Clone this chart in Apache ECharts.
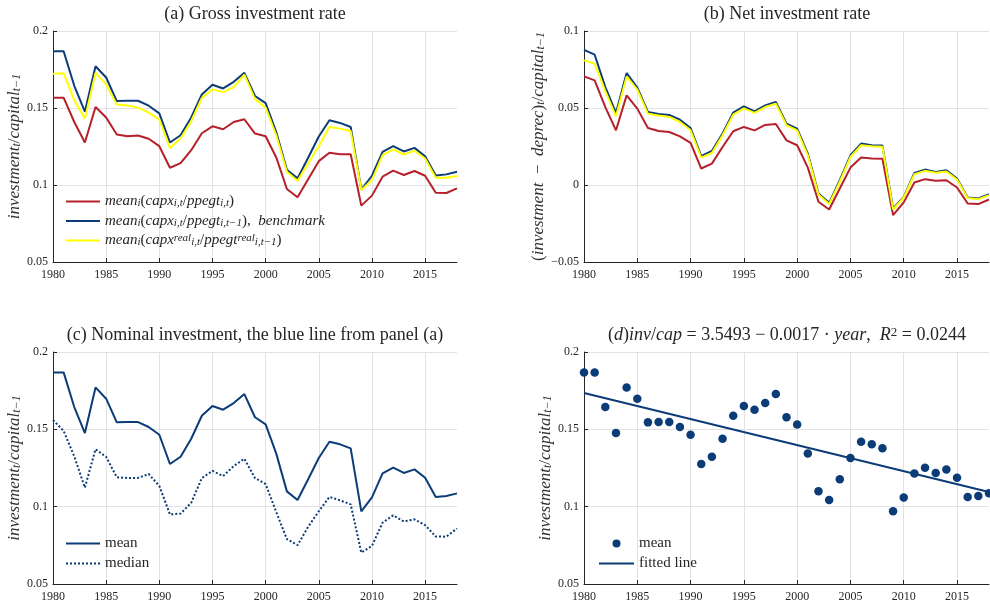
<!DOCTYPE html>
<html><head><meta charset="utf-8">
<script src="https://cdn.jsdelivr.net/npm/echarts@6/dist/echarts.min.js"></script>
<style>html,body{margin:0;padding:0;background:#fff}#chart{width:990px;height:607px}</style>
</head><body><div id="chart"></div>
<script>
const years = [1980,1981,1982,1983,1984,1985,1986,1987,1988,1989,1990,1991,1992,1993,1994,1995,1996,1997,1998,1999,2000,2001,2002,2003,2004,2005,2006,2007,2008,2009,2010,2011,2012,2013,2014,2015,2016,2017,2018];
// panel (a): gross investment rate
const grossMeanBench = [0.1868,0.1868,0.1644,0.1476,0.1771,0.1698,0.1545,0.1547,0.1547,0.1515,0.1465,0.1276,0.1323,0.1439,0.1588,0.1651,0.1627,0.1670,0.1728,0.1578,0.1532,0.1343,0.1099,0.1043,0.1177,0.1315,0.1420,0.1403,0.1377,0.0970,0.1060,0.1215,0.1252,0.1218,0.1241,0.1187,0.1062,0.1069,0.1086];
const grossMeanSame = [0.1567,0.1567,0.1409,0.1276,0.1506,0.1438,0.1328,0.1317,0.1321,0.1300,0.1252,0.1112,0.1142,0.1226,0.1336,0.1381,0.1362,0.1409,0.1427,0.1334,0.1317,0.1179,0.0974,0.0920,0.1037,0.1155,0.1209,0.1200,0.1200,0.0866,0.0931,0.1054,0.1093,0.1065,0.1091,0.1060,0.0950,0.0948,0.0978];
const grossMeanReal = [0.1722,0.1726,0.1550,0.1431,0.1728,0.1653,0.1522,0.1517,0.1502,0.1470,0.1425,0.1241,0.1302,0.1414,0.1565,0.1621,0.1603,0.1636,0.1716,0.1558,0.1502,0.1323,0.1086,0.1028,0.1140,0.1252,0.1377,0.1366,0.1351,0.0968,0.1032,0.1194,0.1231,0.1198,0.1222,0.1172,0.1047,0.1047,0.1058];
// panel (b): net investment rate
const netMeanBench = [0.0878,0.0846,0.0636,0.0468,0.0727,0.0632,0.0474,0.0461,0.0455,0.0424,0.0370,0.0187,0.0221,0.0334,0.0470,0.0511,0.0478,0.0517,0.0539,0.0398,0.0366,0.0204,-0.0055,-0.0116,0.0031,0.0193,0.0269,0.0258,0.0256,-0.0152,-0.0077,0.0079,0.0100,0.0085,0.0096,0.0042,-0.0081,-0.0087,-0.0059];
const netMeanReal = [0.0809,0.0787,0.0610,0.0446,0.0705,0.0619,0.0463,0.0452,0.0442,0.0409,0.0355,0.0178,0.0208,0.0323,0.0457,0.0498,0.0468,0.0506,0.0528,0.0388,0.0355,0.0193,-0.0062,-0.0124,0.0021,0.0182,0.0258,0.0252,0.0249,-0.0159,-0.0081,0.0070,0.0092,0.0079,0.0087,0.0036,-0.0085,-0.0092,-0.0066];
const netMeanSame = [0.0705,0.0679,0.0506,0.0355,0.0582,0.0496,0.0370,0.0351,0.0344,0.0316,0.0273,0.0107,0.0139,0.0247,0.0349,0.0377,0.0355,0.0390,0.0396,0.0290,0.0258,0.0113,-0.0109,-0.0159,-0.0023,0.0113,0.0178,0.0172,0.0170,-0.0195,-0.0113,0.0016,0.0038,0.0027,0.0031,-0.0016,-0.0120,-0.0124,-0.0094];
// panel (c): median of nominal investment rate
const grossMedian = [0.1560,0.1490,0.1325,0.1123,0.1371,0.1322,0.1190,0.1186,0.1186,0.1211,0.1134,0.0950,0.0955,0.1025,0.1185,0.1231,0.1198,0.1263,0.1310,0.1185,0.1146,0.0965,0.0790,0.0751,0.0870,0.0970,0.1063,0.1041,0.1015,0.0703,0.0746,0.0897,0.0944,0.0905,0.0918,0.0881,0.0807,0.0806,0.0859];
// panel (d): fitted line end points
const fitYears = [1980, 2018];
const fitValues = [0.1735, 0.1095];
// axis ticks
const xTicks = [1980,1985,1990,1995,2000,2005,2010,2015];
const yTicksGross = [0.05,0.1,0.15,0.2];
const yTicksNet = [-0.05,0,0.05,0.1];

const serif = "'Liberation Serif','DejaVu Serif',serif";
const RED = '#b5202a', BLUE = '#0b3c78', YEL = '#ffff00', INK = '#262626', GRID = '#e2e2e2';

const nSame = 'mean_i(capx_{i,t}/ppegt_{i,t})';
const nBench = 'mean_i(capx_{i,t}/ppegt_{i,t-1}), benchmark';
const nReal = 'mean_i(capx^{real}_{i,t}/ppegt^{real}_{i,t-1})';
const legendRich = {};
legendRich[nSame] = '{i|mean}{s|i}{r|(}{i|capx}{s|i,t}{r|/}{i|ppegt}{s|i,t}{r|)}';
legendRich[nBench] = '{i|mean}{s|i}{r|(}{i|capx}{s|i,t}{r|/}{i|ppegt}{s|i,t−1}{r|),  }{i|benchmark}';
legendRich[nReal] = '{i|mean}{s|i}{r|(}{i|capx}{p|real}{s|i,t}{r|/}{i|ppegt}{p|real}{s|i,t−1}{r|)}';

const mathRich = (sz, col) => ({
  i: {fontFamily: serif, fontStyle: 'italic', fontSize: sz, lineHeight: sz, color: col || INK},
  r: {fontFamily: serif, fontSize: sz, lineHeight: sz, color: col || INK},
  s: {fontFamily: serif, fontStyle: 'italic', fontSize: Math.round(sz*0.7), lineHeight: Math.round(sz*0.7), verticalAlign: 'bottom', color: col || INK},
  p: {fontFamily: serif, fontStyle: 'italic', fontSize: Math.round(sz*0.7), lineHeight: Math.round(sz*0.7), verticalAlign: 'top', color: col || INK},
  u: {fontFamily: serif, fontSize: Math.round(sz*0.7), lineHeight: Math.round(sz*0.7), verticalAlign: 'top', color: col || INK}
});

const fmtNum = v => { const t = parseFloat(v.toFixed(4)); return (t < 0 ? '−' : '') + String(Math.abs(t)); };

function xAx(i) {
  return {type: 'value', gridIndex: i, min: 1980, max: 2018, interval: 5,
    axisLine: {show: true, onZero: false, lineStyle: {color: INK, width: 1}},
    axisTick: {show: true, inside: true, length: 4, lineStyle: {color: INK}},
    axisLabel: {color: INK, fontFamily: serif, fontSize: 12, margin: 7, showMaxLabel: false,
      formatter: v => xTicks.indexOf(v) >= 0 ? String(v) : ''},
    splitLine: {show: true, showMaxLine: false, showMinLine: false, lineStyle: {color: GRID, width: 1}}};
}
function yAx(i, ticks, nameRich, gap) {
  return {type: 'value', gridIndex: i, min: ticks[0], max: ticks[ticks.length-1], interval: 0.05,
    name: nameRich, nameLocation: 'middle', nameRotate: 90, nameGap: gap,
    nameTextStyle: {rich: mathRich(17, '#333')},
    axisLine: {show: true, onZero: false, lineStyle: {color: INK, width: 1}},
    axisTick: {show: true, inside: true, length: 4, lineStyle: {color: INK}},
    axisLabel: {color: INK, fontFamily: serif, fontSize: 12, margin: 5, formatter: fmtNum},
    splitLine: {show: true, lineStyle: {color: GRID, width: 1}}};
}
const nameInv = '{i|investment}{s|t}{r|/}{i|capital}{s|t−1}';
const nameNet = '{r|(}{i|investment}{r|  −  }{i|deprec}{r|)}{s|t}{r|/}{i|capital}{s|t−1}';

const pairs = arr => years.map((y, k) => [y, arr[k]]);
const lineS = (name, arr, xi, color, extra) => Object.assign({
  type: 'line', name, xAxisIndex: xi, yAxisIndex: xi, data: pairs(arr),
  symbol: 'none', showSymbol: false, lineStyle: {color, width: 2}, itemStyle: {color}, silent: true
}, extra || {});

const titleText = (x, y, text, sz) => ({type: 'text', x, y, silent: true,
  style: {text, textAlign: 'center', textVerticalAlign: 'middle', rich: mathRich(sz), fill: INK, font: sz + 'px ' + serif}});

const hideSym = {opacity: 0};
const option = {
  animation: false,
  backgroundColor: '#fff',
  grid: [
    {left: 53, top: 31, width: 404, height: 231},
    {left: 584, top: 31, width: 405, height: 231},
    {left: 53, top: 352, width: 404, height: 232},
    {left: 584, top: 352, width: 405, height: 232}
  ],
  xAxis: [xAx(0), xAx(1), xAx(2), xAx(3)],
  yAxis: [yAx(0, yTicksGross, nameInv, 27), yAx(1, yTicksNet, nameNet, 30), yAx(2, yTicksGross, nameInv, 27), yAx(3, yTicksGross, nameInv, 29)],
  graphic: [
    titleText(255, 14, '{r|(a) Gross investment rate}', 18),
    titleText(787, 14, '{r|(b) Net investment rate}', 18),
    titleText(255, 335, '{r|(c) Nominal investment, the blue line from panel (a)}', 18),
    titleText(787, 335, '{r|(}{i|d}{r|)}{i|inv}{r|/}{i|cap}{r| = 3.5493 − 0.0017 · }{i|year}{r|,  }{i|R}{u|2}{r| = 0.0244}', 18)
  ],
  legend: [
    {data: [nSame, nBench, nReal].map(n => ({name: n, itemStyle: hideSym})), orient: 'vertical', left: 65, top: 194, padding: 0,
      itemWidth: 34, itemHeight: 14, itemGap: 4.5, selectedMode: false,
      formatter: n => legendRich[n], textStyle: {rich: mathRich(15)}},
    {data: ['mean', 'median'].map(n => ({name: n, itemStyle: hideSym})), orient: 'vertical', left: 65, top: 536, padding: 0,
      itemWidth: 34, itemHeight: 14, itemGap: 5, selectedMode: false,
      textStyle: {fontFamily: serif, fontSize: 15, lineHeight: 14, color: INK}},
    {data: ['mean (scatter)', {name: 'fitted line', itemStyle: hideSym}], orient: 'vertical', left: 598, top: 536, padding: 0,
      itemWidth: 35, itemHeight: 8, itemGap: 5, selectedMode: false,
      formatter: n => n === 'mean (scatter)' ? 'mean' : n,
      textStyle: {fontFamily: serif, fontSize: 15, lineHeight: 14, color: INK}}
  ],
  series: [
    lineS(nSame, grossMeanSame, 0, RED),
    lineS(nBench, grossMeanBench, 0, BLUE),
    lineS(nReal, grossMeanReal, 0, YEL),
    lineS(nSame, netMeanSame, 1, RED),
    lineS(nBench, netMeanBench, 1, BLUE),
    lineS(nReal, netMeanReal, 1, YEL),
    lineS('mean', grossMeanBench, 2, BLUE),
    lineS('median', grossMedian, 2, BLUE, {lineStyle: {color: BLUE, width: 2, type: [2, 2]}}),
    {type: 'scatter', name: 'mean (scatter)', xAxisIndex: 3, yAxisIndex: 3, data: pairs(grossMeanBench),
      symbol: 'circle', symbolSize: 8.5, itemStyle: {color: BLUE, opacity: 1}, silent: true, clip: false},
    {type: 'line', name: 'fitted line', xAxisIndex: 3, yAxisIndex: 3, data: fitYears.map((y, k) => [y, fitValues[k]]),
      symbol: 'none', showSymbol: false, lineStyle: {color: BLUE, width: 2}, itemStyle: {color: BLUE}, silent: true}
  ]
};
const chart = echarts.init(document.getElementById('chart'));
chart.setOption(option);
</script></body></html>
